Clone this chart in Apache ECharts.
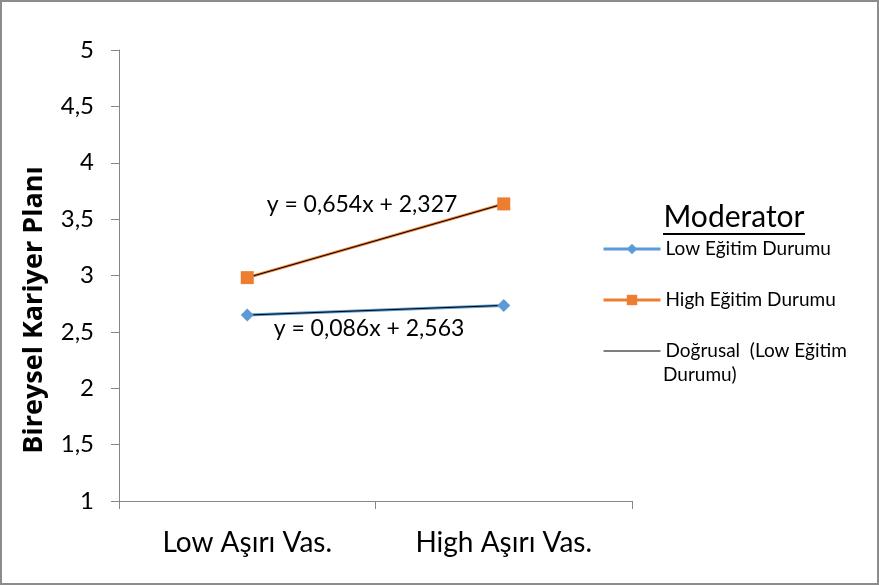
<!DOCTYPE html>
<html>
<head>
<meta charset="utf-8">
<script src="https://cdn.jsdelivr.net/npm/echarts@6/dist/echarts.min.js"></script>
<style>
  html, body { margin: 0; padding: 0; background: #fff; }
  #chart { width: 879px; height: 585px; box-sizing: border-box; border: 2px solid #8c8c8c; }
</style>
</head>
<body>
<div id="chart"></div>
<script>
  const categories = ['Low Aşırı Vas.', 'High Aşırı Vas.']
  const lowValues = [2.649, 2.735]
  const highValues = [2.981, 3.635]
  const lowTrend = [2.649, 2.735]
  const highTrend = [2.981, 3.635]
  const seriesNames = ['Low Eğitim Durumu', 'High Eğitim Durumu', 'Doğrusal  (Low Eğitim Durumu)', 'Doğrusal  (High Eğitim Durumu)']
  const equations = ['y = 0,654x + 2,327', 'y = 0,086x + 2,563']

  const font = 'Lato, "Open Sans", sans-serif'
  const chart = echarts.init(document.getElementById('chart'))

  const option = {
    animation: false,
    textStyle: { fontFamily: font },
    grid: { left: 117, right: 245, top: 48, bottom: 82 },
    xAxis: {
      type: 'category',
      data: categories,
      boundaryGap: true,
      axisLine: { lineStyle: { color: '#868686', width: 1 } },
      axisTick: { show: true, length: 8, lineStyle: { color: '#868686' } },
      axisLabel: { color: '#000', fontSize: 28, margin: 28, fontFamily: font }
    },
    yAxis: {
      type: 'value',
      min: 1,
      max: 5,
      interval: 0.5,
      splitLine: { show: false },
      axisLine: { show: true, lineStyle: { color: '#868686', width: 1 } },
      axisTick: { show: true, length: 8, lineStyle: { color: '#868686' } },
      axisLabel: {
        color: '#000',
        fontSize: 24,
        margin: 25,
        fontFamily: font,
        formatter: v => String(v).replace('.', ',')
      }
    },
    legend: {
      orient: 'vertical',
      left: 600,
      top: 236,
      padding: 0,
      itemWidth: 57,
      itemHeight: 13,
      itemGap: 29,
      data: [
        { name: seriesNames[0], lineStyle: { width: 3 } },
        { name: seriesNames[1], lineStyle: { width: 3 } },
        { name: seriesNames[2], lineStyle: { width: 1 }, itemStyle: { opacity: 0 } }
      ],
      formatter: name => name === seriesNames[2] ? 'Doğrusal  (Low Eğitim' : name,
      textStyle: { color: '#000', fontSize: 19, lineHeight: 22, fontFamily: font }
    },
    graphic: [
      {
        type: 'text',
        rotation: Math.PI / 2,
        x: 32, y: 308,
        style: {
          text: 'Bireysel Kariyer Planı',
          fontSize: 27,
          fontWeight: 'bold',
          fontFamily: '"Open Sans", sans-serif',
          fill: '#000',
          align: 'center',
          verticalAlign: 'middle'
        }
      },
      {
        type: 'text',
        x: 661, y: 373,
        style: { text: 'Durumu)', fontSize: 19, fontFamily: font, fill: '#000', align: 'left', verticalAlign: 'middle' }
      },
      {
        type: 'text',
        x: 732, y: 215,
        style: {
          text: 'Moderator',
          fontSize: 30,
          fontFamily: font,
          fill: '#000',
          align: 'center',
          verticalAlign: 'middle'
        }
      },
      {
        type: 'line',
        shape: { x1: 661, y1: 232, x2: 803, y2: 232 },
        style: { stroke: '#000', lineWidth: 2 }
      },
      {
        type: 'text',
        x: 360, y: 203,
        style: { text: equations[0], fontSize: 23, fontFamily: font, fill: '#000', align: 'center', verticalAlign: 'middle' }
      },
      {
        type: 'text',
        x: 367, y: 327,
        style: { text: equations[1], fontSize: 23, fontFamily: font, fill: '#000', align: 'center', verticalAlign: 'middle' }
      }
    ],
    series: [
      {
        name: seriesNames[0],
        type: 'line',
        data: lowValues,
        color: '#5B9BD5',
        symbol: 'diamond',
        symbolSize: 13,
        lineStyle: { width: 3 }
      },
      {
        name: seriesNames[1],
        type: 'line',
        data: highValues,
        color: '#ED7D31',
        symbol: 'rect',
        symbolSize: 13,
        lineStyle: { width: 3 }
      },
      {
        name: seriesNames[2],
        type: 'line',
        data: lowTrend,
        color: '#000',
        symbol: 'none',
        lineStyle: { width: 1 }
      },
      {
        name: seriesNames[3],
        type: 'line',
        data: highTrend,
        color: '#000',
        symbol: 'none',
        lineStyle: { width: 1 }
      }
    ]
  }
  chart.setOption(option)
</script>
</body>
</html>
